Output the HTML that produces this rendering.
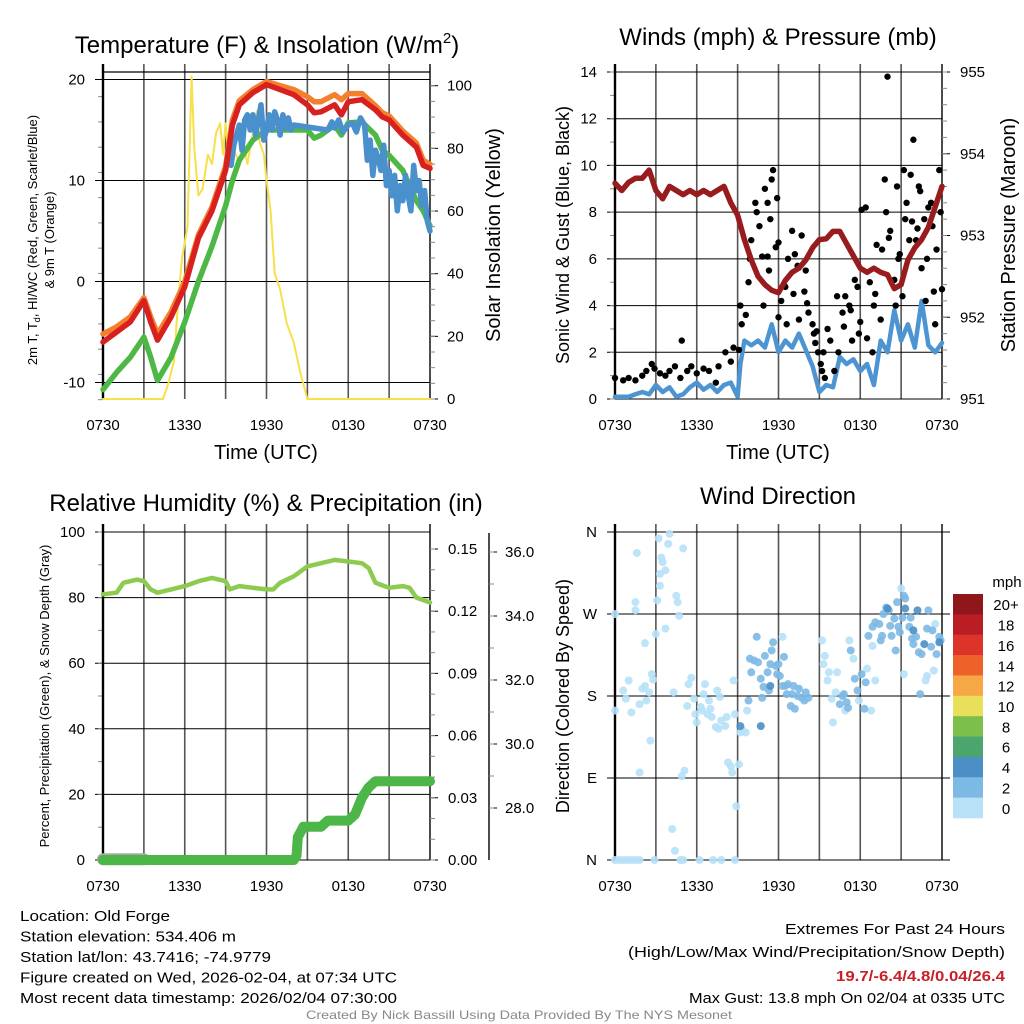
<!DOCTYPE html>
<html><head><meta charset="utf-8"><style>
html,body{margin:0;padding:0;background:#fff;width:1024px;height:1024px;overflow:hidden}
svg{display:block;font-family:"Liberation Sans",sans-serif}
</style></head><body>
<svg id="s" width="1024" height="1024" viewBox="0 0 1024 1024"></svg>
<script>
// ---------- DATA ----------
const xTickLabels = ["0730","1330","1930","0130","0730"];
// Temperature panel (hours since 0730)
const tHours = [0,1,2,3,3.5,4,5,6,7,8,9,9.5,10,11,12,13,14,15,15.5,16,17,17.5,18,19,20,20.5,21,22,23,23.5,24];
const tempRed = [-6,-5,-4,-1.9,-4,-5.8,-3.5,-0.5,4.3,7,11,15.5,17.5,18.7,19.5,19,18.5,17.5,16.7,16.8,17.5,16.5,17.8,18,17,16.3,16,14.5,13.3,11.5,11.2];
const temp9m = [-5.2,-4.5,-3.5,-1.6,-3.5,-5.2,-3,0,4.6,7.4,11.4,16,17.9,19,19.8,19.4,19,18.3,17.8,17.8,18.5,18,18.6,18.6,17.4,16.7,16.4,14.9,13.7,12,11.6];
const dewGreen = [-10.7,-9,-7.5,-5.5,-7.5,-9.8,-7.5,-4,0,3.5,7.5,10,12,14,15,15,15,15,14.2,14.5,15.5,14.5,15.7,15.8,14.5,13,12.5,11,8,7,5.5];
const wcHours = [9.2,9.4,9.6,9.8,10,10.2,10.4,10.6,10.8,11,11.2,11.4,11.6,11.8,12,12.2,12.4,12.6,12.8,13,13.2,13.4,13.6,13.8,14,16.5,16.8,17,17.3,17.6,18,18.3,18.6,18.9,19.2,19.4,19.6,19.8,20,20.2,20.4,20.6,20.8,21,21.2,21.4,21.6,21.8,22,22.2,22.4,22.6,22.8,23,23.2,23.4,23.6,23.8,24];
const wcBlue = [12,11.5,13.5,14.5,15.5,13,16,16.5,15,16.5,14.5,16,17.5,14,15,16.5,15,16.8,16,14.5,16.5,15.2,16.2,15,15.5,15,15.8,15.2,16,14.8,15.5,15.7,14.8,16.2,15.5,12,14,10.5,13,12.2,11,13.5,9.5,11,8.5,10.5,7,9.5,8,10.5,8.5,7,11.5,9,10,7.5,9,6,5];
const solarHours = [0,4.4,4.8,5.2,5.5,5.8,6,6.2,6.5,6.7,7,7.3,7.7,8,8.3,8.6,8.8,9,9.2,9.5,10,10.3,10.6,11,11.3,11.5,11.8,12,12.3,12.6,13,13.5,14,14.5,15,24];
const solar = [0,0,5,12,30,45,50,55,103,80,65,67,78,75,85,88,78,88,78,80,76,82,75,85,92,82,78,70,60,40,35,24,18,8,0,0];
// Wind panel
const pHours = [0,0.5,1,1.5,2,2.5,3,3.5,4,4.5,5,5.5,6,6.5,7,7.5,8,8.5,9,9.5,10,10.5,11,11.5,12,12.5,13,13.5,14,14.5,15,15.5,16,16.5,17,17.5,18,18.5,19,19.5,20,20.5,21,21.5,22,22.5,23,23.5,24];
const pressure = [953.64,953.55,953.65,953.7,953.7,953.8,953.55,953.45,953.6,953.55,953.5,953.55,953.5,953.55,953.5,953.55,953.6,953.4,953.25,952.95,952.7,952.5,952.4,952.33,952.3,952.45,952.55,952.6,952.7,952.85,952.95,952.96,953.05,953.05,952.9,952.75,952.6,952.55,952.6,952.55,952.52,952.35,952.4,952.7,952.85,952.95,953.1,953.35,953.6];
const wHours = [0,0.5,1,1.5,2,2.5,3,3.5,4,4.5,5,5.5,6,6.5,7,7.5,8,8.5,9,9.2,9.5,10,10.5,11,11.5,12,12.5,13,13.5,14,14.5,15,15.5,16,16.5,17,17.5,18,18.5,19,19.5,20,20.5,21,21.5,22,22.5,23,23.5,24];
const windSpeed = [0.1,0.1,0.1,0.2,0.3,0.2,0.6,0.3,0.5,0.1,0.2,0.5,0.7,0.4,0.6,0.3,0.6,0.7,0.1,1.5,2.5,2.3,2.5,2.2,3.2,2.0,2.5,2.2,2.8,2.1,1.4,0.3,0.6,0.5,1.8,1.5,1.7,1.2,1.5,0.6,2.5,2.0,3.8,2.5,3.2,2.2,4.2,2.3,2.0,2.4];
const gustHours = [0,0.6,1,1.5,2,2.3,2.7,2.9,3.3,3.7,4,4.4,4.8,4.9,5.3,5.6,6,6.5,6.9,7.4,7.6,8.1,8.5,8.7,9.1,9.2,9.3,9.6,9.8,9.9,10,10.3,10.4,10.6,10.8,10.9,11,11.2,11.2,11.3,11.4,11.5,11.6,11.8,11.9,12,12,12.2,12.5,12.6,12.7,13,13.1,13.2,13.4,13.5,13.7,13.9,14,14.1,14.2,14.5,14.6,14.7,14.8,14.9,15.1,15.2,15.3,15.4,15.6,15.8,16.1,16.3,16.4,16.7,16.8,16.9,17.2,17.3,17.4,17.6,17.8,17.9,18,18.1,18.4,18.5,18.7,18.9,19,19.1,19.2,19.5,19.6,19.8,19.9,20,20.1,20.2,20.5,20.6,20.7,20.8,20.9,21.1,21.2,21.3,21.4,21.6,21.7,21.8,21.9,22.1,22.2,22.3,22.4,22.5,22.7,22.8,22.9,23,23.2,23.3,23.4,23.5,23.6,23.8,23.9,24];
const gustSpeed = [0.9,0.8,0.9,0.8,1,1.2,1.5,1.3,1.1,1,1.2,1.4,0.9,2.5,1.2,1.4,1.1,1.3,1.2,0.7,1.4,2,1.6,2.2,2.1,4,3.2,3.6,5,6,6.8,8.4,8,7.4,6.1,4,9,6.1,8.4,5.5,7.7,9.4,9.8,6.5,8.6,3.5,6.7,4.2,4.8,3.2,6,7.2,4.5,6.2,5.7,3.4,7,4.6,5.5,4.1,3.7,3.2,2.8,2.4,2.9,2,1.5,1.2,2,0.9,3,2.5,1.2,4.4,2,3.7,3.1,4.4,4,3.8,2.5,5.1,4.8,2.8,3.3,8.1,8.2,2.6,5,2,4,4.5,6.6,3.4,6.4,9.4,8,13.8,6.9,7.2,5.1,4,9.1,6,6.2,4.4,9.8,7.7,8.4,6.8,9.6,7.6,11.1,6.8,7.3,9.1,8.9,5.6,7.7,4.2,6,8.2,8.4,7.4,4.6,3.2,6.4,9.8,8,4.7];
// RH / precip / snow panel
const rhHours = [0,1,1.5,2.5,3,3.5,4,5,6,7,8,9,9.3,10,11,12,12.5,13,14,15,16,17,18,19,19.5,20,21,22,22.5,23,24];
const rh = [81,81.5,84.5,85.5,85,82.5,81.5,82.5,83.5,85,86,85,82.5,83.5,83,82.5,82.5,84.5,86.5,89.5,90.5,91.5,91,90.5,89,84.5,83,83.5,83,80,78.5];
const prHours = [0,14,14.2,14.3,14.7,16,16.5,18,18.5,19,19.5,20,24];
const precip = [0,0,0.002,0.011,0.016,0.016,0.019,0.019,0.022,0.030,0.035,0.038,0.038];
const snowHours = [0,3];
const snowDepth = [26.4,26.4];
// Wind direction panel
const dirHours = [0,0.3,0.6,0.9,1.2,1.5,1.8,2.9,4.8,5.0,6.2,7.2,7.8,8.8,0,0,0.6,0.8,1,1.2,1.5,1.5,1.6,1.8,1.8,2,2.2,2.2,2.3,2.5,2.6,2.7,2.8,3,3.1,3.2,3.3,3.3,3.4,3.5,3.7,3.7,3.9,4,4.2,4.3,4.4,4.5,4.6,4.7,4.9,5,5.1,5.3,5.4,5.6,5.8,5.9,6,6.3,6.4,6.5,6.6,6.8,6.9,7,7.1,7.4,7.5,7.6,7.7,7.8,8.1,8.2,8.3,8.5,8.6,8.7,8.8,8.9,9.1,9.2,9.4,9.6,9.7,12.3,15.2,15.3,15.4,15.6,15.7,15.9,16,16.2,16.3,16.9,17.2,17.5,17.9,18.5,18.8,18.9,19.1,21.0,21.2,22.8,22.9,23.4,23.5,
9.8,10,9.9,10.2,10.4,10.5,10.7,10.8,10.9,11,11.2,11.3,11.4,11.5,11.6,11.8,11.9,12,12.1,12.3,12.4,12.5,12.6,12.7,12.9,13,13.1,13.2,13.4,13.5,13.7,13.9,14,14.2,16.5,16.7,16.8,17,17.1,17.3,17.6,17.8,18.1,18.3,18.4,18.6,18.9,19.1,19.4,19.5,19.6,19.7,19.9,20.1,20.2,20.3,20.5,20.6,20.7,20.8,20.9,21.1,21.2,21.3,21.6,21.7,21.8,21.9,22.1,22.3,22.4,22.5,22.9,23,23.2,23.3,23.6,23.8,23.9,
9.2,10.7,11.4,20,21.3,21.9,22.2,22.7,23.8];
const dirDeg = [0,0,0,0,0,0,0,0,0,0,0,0,0,0,164,270,186,177,197,162,274,283,337,96,171,188,238,191,175,184,131,204,198,248,285,353,301,314,332,327,318,254,347,358,34,184,10,290,283,268,92,342,98,169,193,200,177,160,151,168,164,182,193,160,175,166,157,146,186,144,179,153,147,157,107,103,96,197,160,59,105,140,142,140,164,245,241,215,224,197,206,177,151,184,206,164,241,221,175,210,164,235,197,298,204,197,202,208,259,
175,206,221,219,245,217,199,178,190,224,206,186,215,230,239,213,204,215,202,191,223,191,182,193,169,182,191,166,180,188,178,175,184,178,171,180,182,173,167,230,199,186,204,166,195,246,256,261,259,241,246,270,277,274,257,246,265,230,283,256,250,266,290,287,256,266,243,237,245,228,182,226,254,274,234,252,226,245,241,
147,147,191,276,276,252,274,237,239];
const dirSpeedBin = [].concat(Array(109).fill(0), Array(79).fill(1), Array(9).fill(2));
const cbLabels = ["20+","18","16","14","12","10","8","6","4","2","0"];
const cbColors = ["#8f161b","#bb1d25","#dc3428","#ee6129","#f7a846","#e8e05b","#7cc04b","#4ba56d","#4b8fc6","#7db9e5","#b6e1f7"];
const speedColors = ["#b6e1f7","#7db9e5","#4b8fc6"];

// ---------- DRAW ----------
const NS="http://www.w3.org/2000/svg";
const svg=document.getElementById('s');
function mk(tag, attrs, name, parent){
  const el=document.createElementNS(NS,tag);
  for(const k in attrs) el.setAttribute(k, attrs[k]);
  
  
  (parent||svg).appendChild(el);
  return el;
}
function txt(x,y,s,size,name,opts={}){
  const a={x:x,y:y,'font-size':size,fill:opts.fill||'#000','text-anchor':opts.anchor||'start'};
  if(opts.rot!==undefined) a.transform=`rotate(${opts.rot} ${x} ${y})`;
  if(opts.len){a.textLength=opts.len;a.lengthAdjust='spacingAndGlyphs';}
  if(opts.weight) a['font-weight']=opts.weight;
  const t=mk('text',a,name);
  t.textContent=s;return t;
}
function panel(p){
  const X=h=>p.x0+h*(p.x1-p.x0)/24;
  const Y=v=>p.yb+(v-p.ymin)*(p.yt-p.yb)/(p.ymax-p.ymin);
  return {X,Y};
}
function frame(p, ax, leftTicks, leftLabels, minorStep, topFrame){
  for(let h=3;h<24;h+=3) mk('line',{x1:ax.X(h),x2:ax.X(h),y1:p.top-8,y2:p.yb,stroke:'#555','stroke-width':1.6},'vertical-grid-line');
  leftTicks.forEach((v,i)=>{
    const y=ax.Y(v);
    mk('line',{x1:p.x0-8,x2:p.x1+(p.gridExt||0),y1:y,y2:y,stroke:'#000','stroke-width':1},'horizontal-grid-line');
    txt(p.x0-18,y+5,leftLabels[i],15,'y-tick-label',{anchor:'end'});
  });
  if(minorStep){
    for(let v=p.ymin;v<=p.ymax+1e-9;v+=minorStep){const y=ax.Y(v);if(y<p.top-0.5)continue;mk('line',{x1:p.x0-5,x2:p.x0,y1:y,y2:y,stroke:'#888','stroke-width':1},'y-minor-tick');}
  }
  if(topFrame) mk('line',{x1:p.x0,x2:p.x1,y1:topFrame,y2:topFrame,stroke:'#000','stroke-width':1.2},'plot-top-border');
  mk('line',{x1:p.x0,x2:p.x0,y1:p.top-8,y2:p.yb,stroke:'#000','stroke-width':2.4},'plot-left-border');
  mk('line',{x1:p.x1,x2:p.x1,y1:p.top-8,y2:p.yb,stroke:'#000','stroke-width':1.4},'plot-right-border');
  xTickLabels.forEach((s,i)=>txt(ax.X(i*6),p.yb+31,s,15,'x-tick-label',{anchor:'middle'}));
}
function path(pts,stroke,w,name,extra={}){
  let d='';let pen=false;
  pts.forEach(([x,y])=>{ if(y===null||isNaN(y)){pen=false;return;} d+=(pen?'L':'M')+x.toFixed(1)+' '+y.toFixed(1);pen=true;});
  return mk('path',Object.assign({d:d,fill:'none',stroke:stroke,'stroke-width':w,'stroke-linejoin':'round','stroke-linecap':'round'},extra),name);
}
function rightAxis(xa,yb,yt,vmin,vmax,majors,labels,minor,name,lx){
  const Y=v=>yb+(v-vmin)*(yt-yb)/(vmax-vmin);
  majors.forEach((v,i)=>{const y=Y(v);mk('line',{x1:xa,x2:xa+8,y1:y,y2:y,stroke:'#000','stroke-width':1},name+'-tick');txt(lx,y+5,labels[i],15,name+'-tick-label');});
  if(minor) for(let v=vmin;v<=vmax+1e-9;v+=minor){const y=Y(v);if(y<yt-1)continue;mk('line',{x1:xa,x2:xa+5,y1:y,y2:y,stroke:'#888','stroke-width':1},name+'-minor-tick');}
  return Y;
}

// ===== Panel 1: Temperature =====
{
const p={x0:103,x1:430,yb:399,yt:80,ymin:-11.7,ymax:20,top:72};
const ax={X:h=>p.x0+h*(p.x1-p.x0)/24, Y:v=>281.5-v*10.1};
frame(p,ax,[-10,0,10,20],["-10","0","10","20"],2.5,72);
const YS=rightAxis(430,399,85.7,0,100,[0,20,40,60,80,100],["0","20","40","60","80","100"],5,'solar-axis',447);
path(solarHours.map((h,i)=>[ax.X(h),YS(solar[i])]),'#f8e04a',2,'solar-insolation-line');
path(tHours.map((h,i)=>[ax.X(h),ax.Y(dewGreen[i])]),'#4db846',5.5,'dewpoint-line');
path(wcHours.map((h,i)=>[ax.X(h),ax.Y(wcBlue[i])]),'#4a90cc',5.5,'windchill-line');
path(tHours.map((h,i)=>[ax.X(h),ax.Y(temp9m[i])]),'#f47f2c',5.5,'temp-9m-line');
path(tHours.map((h,i)=>[ax.X(h),ax.Y(tempRed[i])]),'#d7201f',5.5,'temp-2m-line');
txt(267,53,'Temperature (F) & Insolation (W/m',24,'temperature-chart-title',{anchor:'middle'}).innerHTML='Temperature (F) &amp; Insolation (W/m<tspan font-size="15" dy="-10">2</tspan><tspan dy="10">)</tspan>';
txt(266,459,'Time (UTC)',20,'x-axis-title',{anchor:'middle'});
txt(37,240,'2m T, Td, HI/WC (Red, Green, Scarlet/Blue)',13,'temperature-y-axis-title',{anchor:'middle',rot:-90}).innerHTML='2m T, T<tspan font-size="9" dy="3">d</tspan><tspan dy="-3">, HI/WC (Red, Green, Scarlet/Blue)</tspan>';
txt(54,240,'& 9m T (Orange)',13,'temperature-y-axis-title-line2',{anchor:'middle',rot:-90});
txt(500,235,'Solar Insolation (Yellow)',20,'solar-y-axis-title',{anchor:'middle',rot:-90});
}

// ===== Panel 2: Winds =====
{
const p={x0:615,x1:942,yb:399,yt:72,ymin:0,ymax:14,top:72};
const ax=panel(p);
frame(p,ax,[0,2,4,6,8,10,12,14],["0","2","4","6","8","10","12","14"],1,0);
const YP=rightAxis(942,399,72,951,955,[951,952,953,954,955],["951","952","953","954","955"],0.2,'pressure-axis',960);
path(wHours.map((h,i)=>[ax.X(h),ax.Y(windSpeed[i])]),'#4c95d2',4.5,'sonic-wind-line');
gustHours.forEach((h,i)=>{
  mk('circle',{cx:ax.X(h),cy:ax.Y(gustSpeed[i]),r:3.2,fill:'#000'},'gust-point');
});
path(pHours.map((h,i)=>[ax.X(h),YP(pressure[i])]),'#981b1e',5.5,'pressure-line');
txt(778,45,'Winds (mph) & Pressure (mb)',24,'winds-chart-title',{anchor:'middle'});
txt(778,459,'Time (UTC)',20,'x-axis-title',{anchor:'middle'});
txt(569,235,'Sonic Wind & Gust (Blue, Black)',18,'wind-y-axis-title',{anchor:'middle',rot:-90});
txt(1015,235,'Station Pressure (Maroon)',20,'pressure-y-axis-title',{anchor:'middle',rot:-90});
}

// ===== Panel 3: RH & Precip =====
{
const p={x0:103,x1:430,yb:860,yt:532,ymin:0,ymax:100,top:532};
const ax=panel(p);
frame(p,ax,[0,20,40,60,80,100],["0","20","40","60","80","100"],10,0);
const YR=rightAxis(430,860,549,0,0.15,[0,0.03,0.06,0.09,0.12,0.15],["0.00","0.03","0.06","0.09","0.12","0.15"],0.01,'precip-axis',448);
mk('line',{x1:489,x2:489,y1:533,y2:860,stroke:'#000','stroke-width':1.4},'snow-axis-line');
const YSn=rightAxis(489,808,552,28,36,[28,30,32,34,36],["28.0","30.0","32.0","34.0","36.0"],1,'snow-axis',505);
path(snowHours.map((h,i)=>[ax.X(h),YSn(snowDepth[i])]),'#aaaaaa',12,'snow-depth-line');
path(prHours.map((h,i)=>[ax.X(h),YR(precip[i])]),'#4cb648',10,'precipitation-line');
path(rhHours.map((h,i)=>[ax.X(h),ax.Y(rh[i])]),'#8ccb4f',4.5,'relative-humidity-line');
txt(266,511,'Relative Humidity (%) & Precipitation (in)',24,'humidity-chart-title',{anchor:'middle'});
txt(49,696,'Percent, Precipitation (Green), & Snow Depth (Gray)',13,'humidity-y-axis-title',{anchor:'middle',rot:-90});
}

// ===== Panel 4: Wind Direction =====
{
const p={x0:615,x1:942,yb:860,yt:532,ymin:0,ymax:360,top:532,gridExt:8};
const ax=panel(p);
frame(p,ax,[0,90,180,270,360],["N","E","S","W","N"],0,0);
dirHours.forEach((h,i)=>{
  mk('circle',{cx:ax.X(h),cy:ax.Y(dirDeg[i]),r:4,fill:speedColors[dirSpeedBin[i]],'fill-opacity':0.9},'wind-direction-point');
});
txt(778,504,'Wind Direction',24,'wind-direction-title',{anchor:'middle'});
txt(569,696,'Direction (Colored By Speed)',18,'direction-y-axis-title',{anchor:'middle',rot:-90});
const cbTop=594, cbH=(818-594)/cbLabels.length;
cbLabels.forEach((l,i)=>{
  mk('rect',{x:953,y:cbTop+i*cbH,width:30,height:cbH+0.3,fill:cbColors[i]},'colorbar-swatch');
  txt(1006,cbTop+i*cbH+cbH/2+6,l,15,'colorbar-label',{anchor:'middle'});
});
txt(1007,587,'mph',15,'colorbar-title',{anchor:'middle'});
}

// ===== Footer =====
const fl=[["Location: Old Forge",150],["Station elevation: 534.406 m",216],["Station lat/lon: 43.7416; -74.9779",251],["Figure created on Wed, 2026-02-04, at 07:34 UTC",377],["Most recent data timestamp: 2026/02/04 07:30:00",377]];
fl.forEach((f,i)=>txt(20,921+i*20.5,f[0],15,'station-info-line',{len:f[1]}));
txt(1005,934,'Extremes For Past 24 Hours',15,'extremes-heading',{anchor:'end',len:220});
txt(1005,957,'(High/Low/Max Wind/Precipitation/Snow Depth)',15,'extremes-subheading',{anchor:'end',len:377});
txt(1005,981,'19.7/-6.4/4.8/0.04/26.4',15,'extremes-values',{anchor:'end',len:169,fill:'#c8202a',weight:'bold'});
txt(1005,1003,'Max Gust: 13.8 mph On 02/04 at 0335 UTC',15,'max-gust-text',{anchor:'end',len:316});
txt(306,1019,'Created By Nick Bassill Using Data Provided By The NYS Mesonet',12,'credit-text',{fill:'#888',len:426});
</script>
</body></html>
